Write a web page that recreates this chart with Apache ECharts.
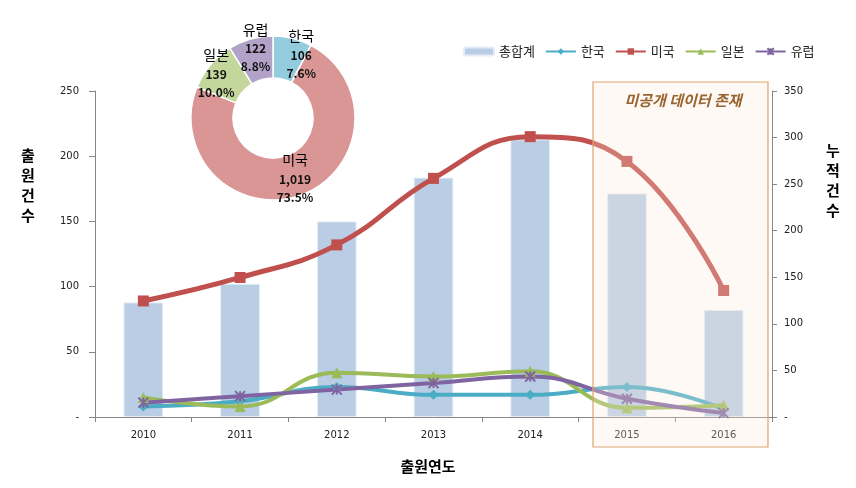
<!DOCTYPE html>
<html><head><meta charset="utf-8">
<script src="https://cdn.jsdelivr.net/npm/echarts@6/dist/echarts.min.js"></script>
<style>html,body{margin:0;padding:0;background:#fff}#c{width:856px;height:488px}</style>
</head><body><div id="c"></div>
<script>
const years = ['2010','2011','2012','2013','2014','2015','2016'];
const total = [123, 143, 210, 257, 298, 240, 115];
const korea = [8, 12, 23, 17, 17, 23, 6];
const usa = [89, 107, 132, 183, 215, 196, 97];
const japan = [15, 8, 34, 31, 35, 7, 9];
const europe = [11, 16, 21, 26, 31, 14, 3];
const pieNames = ['한국', '미국', '일본', '유럽'];
const pieValues = [106, 1019, 139, 122];
const pieColors = ['#93CDDD', '#D99694', '#C3D69B', '#B3A2C7'];
const leftTicks = {min: 0, max: 250, interval: 50};
const rightTicks = {min: 0, max: 350, interval: 50};

const KR = '"Noto Sans CJK KR", sans-serif';
const NUM = '"DejaVu Sans", sans-serif';
const pieTotal = pieValues.reduce((a, b) => a + b, 0);
const labelOffsets = [[13, -2], [0, 0], [-8, -4], [0, -9]];

const chart = echarts.init(document.getElementById('c'));
function lineSeries(name, data, color, symbol, size, width, extra) {
  return Object.assign({
    name, type: 'line', yAxisIndex: 0, data, smooth: 0.45,
    symbol, symbolSize: size, showSymbol: true,
    lineStyle: {color, width}, itemStyle: {color}, z: 3
  }, extra || {});
}
chart.setOption({
  animation: false,
  grid: {left: 95, right: 84, top: 91, bottom: 71},
  legend: {
    left: 458, top: 40, itemWidth: 30, itemHeight: 8, itemGap: 10,
    textStyle: {fontFamily: KR, fontSize: 13, color: '#222'},
    data: ['총합계', '한국', '미국', '일본', '유럽']
  },
  xAxis: {
    type: 'category', data: years, boundaryGap: true,
    axisLine: {lineStyle: {color: '#868686'}},
    axisTick: {show: true, length: 5, lineStyle: {color: '#868686'}},
    axisLabel: {fontFamily: NUM, fontSize: 10, color: '#222', margin: 13}
  },
  yAxis: [{
    type: 'value', position: 'left', ...leftTicks,
    splitLine: {show: false},
    axisLine: {show: true, lineStyle: {color: '#868686'}},
    axisTick: {show: true, length: 6, lineStyle: {color: '#868686'}},
    axisLabel: {fontFamily: NUM, fontSize: 10, color: '#222', margin: 16,
      formatter: v => v === 0 ? '-' : String(v)}
  }, {
    type: 'value', position: 'right', ...rightTicks,
    splitLine: {show: false},
    axisLine: {show: true, lineStyle: {color: '#868686'}},
    axisTick: {show: true, length: 5, lineStyle: {color: '#868686'}},
    axisLabel: {fontFamily: NUM, fontSize: 10, color: '#222', margin: 12,
      formatter: v => v === 0 ? '-' : String(v)}
  }],
  series: [
    {name: '총합계', type: 'bar', yAxisIndex: 1, data: total, barWidth: '41%',
      itemStyle: {color: '#B9CDE5', borderColor: '#E4ECF5', borderWidth: 1}, z: 2},
    lineSeries('한국', korea, '#4BACC6', 'diamond', 10, 4),
    lineSeries('미국', usa, '#C0504D', 'rect', 11, 5),
    lineSeries('일본', japan, '#9BBB59', 'triangle', 11, 4),
    lineSeries('유럽', europe, '#8064A2', 'path://M0,0L10,10M10,0L0,10M5,0L5,10', 10, 4,
      {itemStyle: {color: '#8064A2', borderColor: '#8064A2', borderWidth: 2}}),
    {
      type: 'pie', center: [273, 118], radius: [40, 82], startAngle: 90, clockwise: true,
      z: 5, silent: true,
      itemStyle: {borderColor: '#fff', borderWidth: 1.5},
      color: pieColors,
      data: pieNames.map((n, i) => ({name: n, value: pieValues[i]})),
      label: {
        show: true, position: 'inside', lineHeight: 18,
        formatter: p => '{n|' + p.name + '}\n{v|' + p.value.toLocaleString('en-US') + '}\n{v|' + (p.value / pieTotal * 100).toFixed(1) + '%}',
        rich: {
          n: {fontFamily: KR, fontSize: 14, color: '#000', lineHeight: 21},
          v: {fontFamily: KR, fontSize: 12, fontWeight: 'bold', color: '#111', lineHeight: 18}
        }
      },
      labelLayout: p => ({dx: labelOffsets[p.dataIndex][0], dy: labelOffsets[p.dataIndex][1]}),
      labelLine: {show: false}
    }
  ],
  graphic: [
    {type: 'rect', shape: {x: 593, y: 82, width: 175, height: 365}, z: 10, silent: true,
      style: {fill: 'rgba(253,232,214,0.28)', stroke: '#DDA46E', lineWidth: 1.2}},
    {type: 'text', x: 683, y: 100, z: 11, silent: true,
      style: {text: '미공개 데이터 존재', fontFamily: KR, fontSize: 15, fontStyle: 'italic', fontWeight: 'bold',
        fill: '#9A6430', align: 'center', verticalAlign: 'middle'}},
    {type: 'text', x: 28, y: 185, silent: true,
      style: {text: '출\n원\n건\n수', fontFamily: KR, fontSize: 15, fontWeight: 'bold', lineHeight: 20,
        fill: '#000', align: 'center', verticalAlign: 'middle'}},
    {type: 'text', x: 833, y: 180, silent: true,
      style: {text: '누\n적\n건\n수', fontFamily: KR, fontSize: 15, fontWeight: 'bold', lineHeight: 20,
        fill: '#000', align: 'center', verticalAlign: 'middle'}},
    {type: 'text', x: 428, y: 466, silent: true,
      style: {text: '출원연도', fontFamily: KR, fontSize: 15, fontWeight: 'bold',
        fill: '#000', align: 'center', verticalAlign: 'middle'}}
  ]
});
</script></body></html>
